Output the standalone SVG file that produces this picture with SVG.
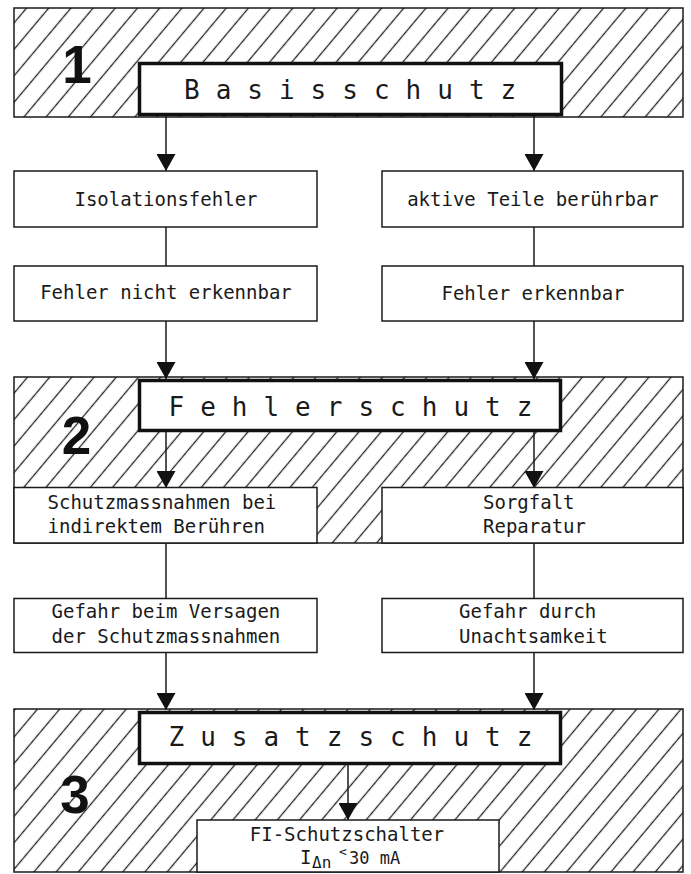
<svg xmlns="http://www.w3.org/2000/svg" width="691" height="874" viewBox="0 0 691 874">
<defs>
<style>
.zone{fill:url(#hatch);stroke:#1a1a1a;stroke-width:1.5}
.box{fill:#fff;stroke:#1a1a1a;stroke-width:1.5}
.main{fill:#fff;stroke:#111;stroke-width:3.5}
.t{font-family:"DejaVu Sans Mono","Liberation Mono",monospace;font-size:19px;fill:#1a1a1a}
.c{text-anchor:middle}
.title{font-family:"DejaVu Sans Mono","Liberation Mono",monospace;font-size:26px;letter-spacing:16px;fill:#1a1a1a}
.num{font-family:"Liberation Sans",Arial,sans-serif;font-weight:bold;font-size:53px;fill:#111;text-anchor:middle}
.ln{stroke:#1a1a1a;stroke-width:1.5;fill:none}
.ar{marker-end:url(#arrow)}
</style>
<pattern id="hatch" patternUnits="userSpaceOnUse" width="17" height="17" patternTransform="rotate(40)">
<line x1="8.5" y1="0" x2="8.5" y2="17" stroke="#222" stroke-width="1.3"/>
</pattern>
<marker id="arrow" markerUnits="userSpaceOnUse" viewBox="0 0 17 19" refX="17" refY="9.5" markerWidth="17" markerHeight="19" orient="auto">
<path d="M0,0 L17,9.5 L0,19 Z" fill="#111"/>
</marker>
</defs>
<rect width="691" height="874" fill="#fff"/>

<g id="zone1">
<rect class="zone" x="14" y="8" width="669" height="109"/>
<text class="num" x="77" y="83">1</text>
</g>
<g id="zone2">
<rect class="zone" x="14" y="377" width="669" height="166"/>
<text class="num" x="76.5" y="454">2</text>
</g>
<g id="zone3">
<rect class="zone" x="14" y="709" width="669" height="163"/>
<text class="num" x="75" y="813">3</text>
</g>

<g id="connectors">
<line class="ln ar" x1="166" y1="116" x2="166" y2="171"/>
<line class="ln ar" x1="534" y1="116" x2="534" y2="171"/>
<line class="ln" x1="166" y1="227" x2="166" y2="266"/>
<line class="ln" x1="534" y1="227" x2="534" y2="266"/>
<line class="ln ar" x1="166" y1="321" x2="166" y2="379"/>
<line class="ln ar" x1="534" y1="321" x2="534" y2="379"/>
<line class="ln ar" x1="166" y1="432" x2="166" y2="488"/>
<line class="ln ar" x1="534" y1="432" x2="534" y2="488"/>
<line class="ln" x1="166" y1="543" x2="166" y2="598.5"/>
<line class="ln" x1="534" y1="543" x2="534" y2="598.5"/>
<line class="ln ar" x1="166" y1="652.5" x2="166" y2="710"/>
<line class="ln ar" x1="534" y1="652.5" x2="534" y2="710"/>
<line class="ln ar" x1="348" y1="765" x2="348" y2="820"/>
</g>

<g id="basisschutz">
<rect class="main" x="139.5" y="63.5" width="422" height="51"/>
<text class="title" x="184" y="99">Basisschutz</text>
</g>
<g id="isolationsfehler">
<rect class="box" x="14" y="171" width="303" height="56"/>
<text class="t c" x="166" y="206">Isolationsfehler</text>
</g>
<g id="aktive-teile">
<rect class="box" x="382" y="171" width="301" height="56"/>
<text class="t c" x="533" y="206">aktive Teile berührbar</text>
</g>
<g id="fehler-nicht-erkennbar">
<rect class="box" x="14" y="266" width="303" height="55"/>
<text class="t c" x="166" y="299">Fehler nicht erkennbar</text>
</g>
<g id="fehler-erkennbar">
<rect class="box" x="382" y="266" width="301" height="55"/>
<text class="t c" x="533" y="300">Fehler erkennbar</text>
</g>
<g id="fehlerschutz">
<rect class="main" x="139.5" y="380.5" width="421" height="50"/>
<text class="title" x="168.5" y="416">Fehlerschutz</text>
</g>
<g id="schutzmassnahmen">
<rect class="box" x="14" y="487.5" width="303" height="55.5"/>
<text class="t" x="47.5" y="509">Schutzmassnahmen bei</text>
<text class="t" x="47.5" y="533">indirektem Berühren</text>
</g>
<g id="sorgfalt">
<rect class="box" x="382" y="487.5" width="301" height="55.5"/>
<text class="t" x="483" y="509">Sorgfalt</text>
<text class="t" x="483" y="533">Reparatur</text>
</g>
<g id="gefahr-versagen">
<rect class="box" x="14" y="598.5" width="303" height="54"/>
<text class="t" x="51.5" y="618">Gefahr beim Versagen</text>
<text class="t" x="51.5" y="643">der Schutzmassnahmen</text>
</g>
<g id="gefahr-unachtsamkeit">
<rect class="box" x="382" y="598.5" width="301" height="54"/>
<text class="t" x="459" y="618">Gefahr durch</text>
<text class="t" x="459" y="643">Unachtsamkeit</text>
</g>
<g id="zusatzschutz">
<rect class="main" x="139.5" y="712.5" width="421" height="51"/>
<text class="title" x="168.5" y="746">Zusatzschutz</text>
</g>
<g id="fi-schutzschalter">
<rect class="box" x="197" y="820" width="302" height="52"/>
<text class="t c" x="347" y="841">FI-Schutzschalter</text>
<text class="t" x="300" y="864">I<tspan x="312" dy="4" font-size="16">Δn</tspan><tspan x="339" dy="-12" font-size="13">&lt;</tspan><tspan x="349" dy="8" font-size="17">30 mA</tspan></text>
</g>
</svg>
